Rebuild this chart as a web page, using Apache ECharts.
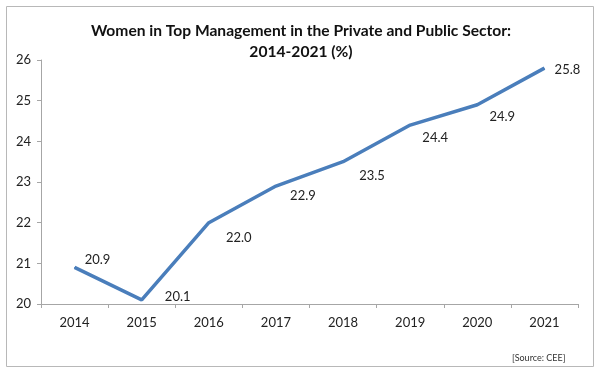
<!DOCTYPE html>
<html><head><meta charset="utf-8">
<script src="https://cdn.jsdelivr.net/npm/echarts@6/dist/echarts.min.js"></script>
<style>html,body{margin:0;padding:0;background:#fff}#c{width:602px;height:373px}</style>
</head><body><div id="c"></div>
<script>
const years = ['2014','2015','2016','2017','2018','2019','2020','2021'];
const values = [20.9, 20.1, 22.0, 22.9, 23.5, 24.4, 24.9, 25.8];
const yTicks = [20, 21, 22, 23, 24, 25, 26];
const titleText = 'Women in Top Management in the Private and Public Sector:\n2014-2021 (%)';
const sourceText = '[Source: CEE]';
// label offsets (style only)
const labelOffsets = [[23,-8],[36,-3],[30,15],[27,10],[29,14],[25,13],[25,12],[23,2]];

const FONT = 'Lato, "Liberation Sans", sans-serif';
const chart = echarts.init(document.getElementById('c'));
chart.setOption({
  animation: false,
  graphic: [
    {type:'rect', shape:{x:6.5,y:6.5,width:587,height:360}, style:{fill:'none', stroke:'#b8b8b8', lineWidth:1}},
    {type:'text', left: 512, top: 354, style:{text: sourceText, fill:'#333', font: '9px ' + FONT}}
  ],
  title: {
    text: titleText, left: 'center', top: 15,
    textStyle: {fontFamily: FONT, fontWeight: 'bold', fontSize: 15.6, color: '#111', lineHeight: 21}
  },
  grid: {left: 41, right: 24, top: 60, bottom: 69},
  xAxis: {
    type: 'category', data: years, boundaryGap: true,
    axisLine: {lineStyle: {color: '#a6a6a6', width: 1}},
    axisTick: {show: true, length: 4, lineStyle: {color: '#a6a6a6'}},
    axisLabel: {color: '#222', fontSize: 13, fontFamily: FONT, margin: 12}
  },
  yAxis: {
    type: 'value', min: yTicks[0], max: yTicks[yTicks.length-1], interval: 1,
    axisLine: {show: true, lineStyle: {color: '#a6a6a6', width: 1}},
    axisTick: {show: true, length: 4, lineStyle: {color: '#a6a6a6'}},
    splitLine: {show: false},
    axisLabel: {color: '#222', fontSize: 13, fontFamily: FONT, margin: 10}
  },
  series: [{
    type: 'line', symbol: 'circle', symbolSize: 1,
    itemStyle: {color: '#4a7ebb'},
    lineStyle: {color: '#4a7ebb', width: 3.5},
    data: values.map((v, i) => ({
      value: v,
      label: {show: true, position: 'inside', offset: labelOffsets[i], align: 'center', verticalAlign: 'middle',
        formatter: (p) => p.value.toFixed(1), color: '#222', fontSize: 13, fontFamily: FONT}
    }))
  }]
});
</script></body></html>
